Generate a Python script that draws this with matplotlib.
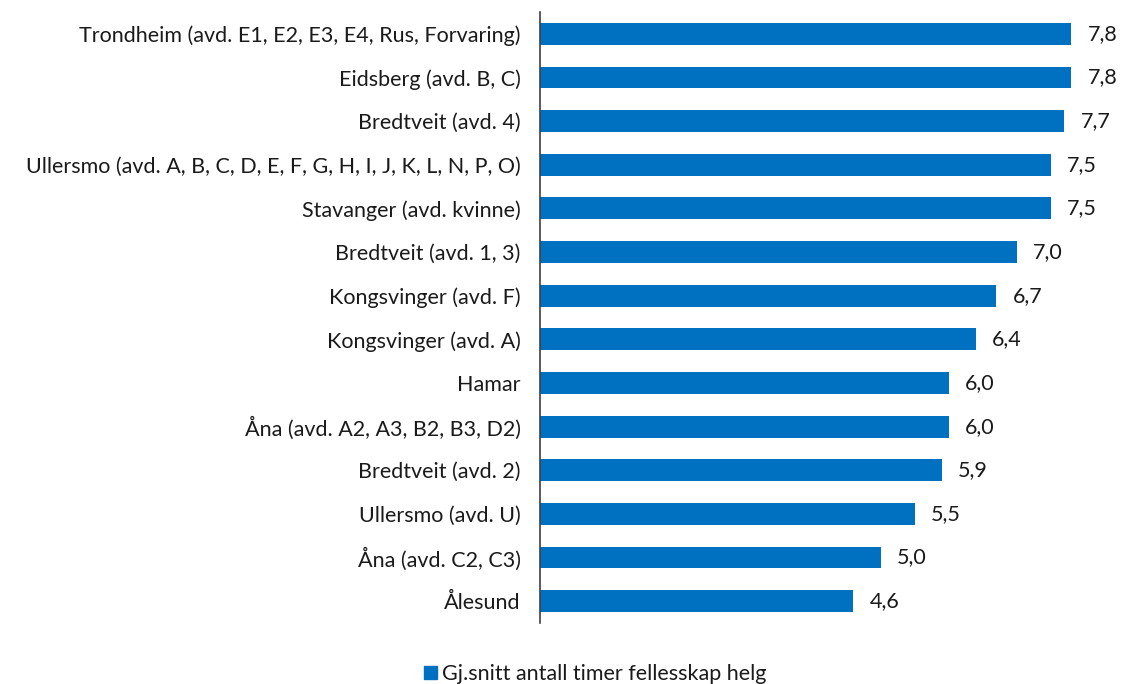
import matplotlib
matplotlib.use("Agg")
import matplotlib.pyplot as plt
from matplotlib.patches import Patch

categories = [
    "Trondheim (avd. E1, E2, E3, E4, Rus, Forvaring)",
    "Eidsberg (avd. B, C)",
    "Bredtveit (avd. 4)",
    "Ullersmo (avd. A, B, C, D, E, F, G, H, I, J, K, L, N, P, O)",
    "Stavanger (avd. kvinne)",
    "Bredtveit (avd. 1, 3)",
    "Kongsvinger (avd. F)",
    "Kongsvinger (avd. A)",
    "Hamar",
    "Åna (avd. A2, A3, B2, B3, D2)",
    "Bredtveit (avd. 2)",
    "Ullersmo (avd. U)",
    "Åna (avd. C2, C3)",
    "Ålesund",
]
values = [7.8, 7.8, 7.7, 7.5, 7.5, 7.0, 6.7, 6.4, 6.0, 6.0, 5.9, 5.5, 5.0, 4.6]
series_name = "Gj.snitt antall timer fellesskap helg"

plt.rcParams['font.family'] = ['Lato', 'DejaVu Sans']
color = "#0070C0"
fs = 15.5

fig = plt.figure(figsize=(11.21, 6.84), dpi=100)
ax = fig.add_axes([540/1121, 1-623/684, 578.9/1121, 611/684])

y = list(range(len(categories)))
ax.barh(y, values, height=0.5, color=color)
ax.set_ylim(len(categories)-0.5, -0.5)
ax.set_xlim(0, 8.5)
ax.set_yticks(y)
ax.set_yticklabels(categories, fontsize=fs, color='#1a1a1a')
ax.tick_params(axis='y', length=0, pad=14)
ax.set_xticks([])
for s in ['top', 'right', 'bottom']:
    ax.spines[s].set_visible(False)
ax.spines['left'].set_color('#404040')
ax.spines['left'].set_linewidth(1.2)

for yi, v in zip(y, values):
    ax.text(v + 0.24, yi, f"{v:.1f}".replace('.', ','), va='center', ha='left',
            fontsize=fs, color='#1a1a1a')

handle = Patch(color=color)
fig.legend([handle], [series_name], loc='center', bbox_to_anchor=(595/1121, 1-674/684),
           frameon=False, fontsize=fs, handlelength=0.6, handleheight=0.6, handletextpad=0.25,
           labelcolor='#1a1a1a')

fig.savefig("out.png", dpi=100)
